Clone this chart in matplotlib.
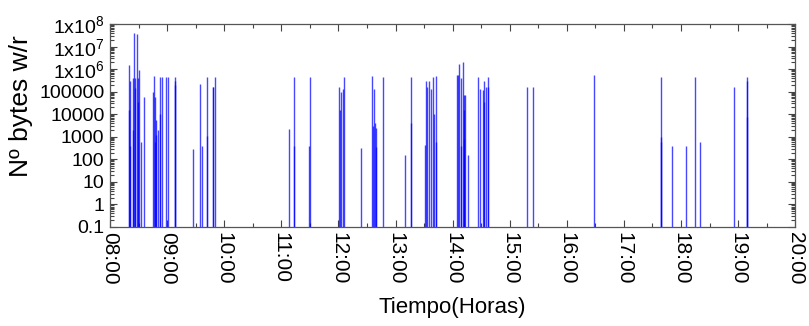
import matplotlib
matplotlib.use("Agg")
import matplotlib.pyplot as plt
from matplotlib.ticker import FixedLocator, LogLocator, NullFormatter

plt.rcParams.update({
    "font.family": ["Liberation Sans", "DejaVu Sans"],
    "mathtext.fontset": "custom",
    "mathtext.rm": "Liberation Sans",
    "mathtext.default": "regular",
})

# hora del dia (horas decimales) y bytes leidos/escritos
times = [8.335, 8.340, 8.345, 8.348, 8.403, 8.405, 8.426, 8.443, 8.445, 8.478,
         8.488, 8.492, 8.507, 8.543, 8.587,
         8.759, 8.776, 8.786, 8.790, 8.804, 8.808, 8.846, 8.874, 8.878, 8.916,
         8.975, 9.009, 9.135, 9.140, 9.145,
         9.459, 9.582, 9.617, 9.692, 9.696, 9.802, 9.806, 9.840,
         11.141, 11.222, 11.226, 11.481, 11.509,
         12.015, 12.019, 12.040, 12.075, 12.105, 12.392, 12.595, 12.614, 12.618,
         12.634, 12.653, 12.657, 12.788,
         13.173, 13.275, 13.279, 13.524, 13.528, 13.547, 13.578, 13.614, 13.663,
         13.676, 13.709, 13.713,
         14.079, 14.102, 14.119, 14.147, 14.151, 14.177, 14.191, 14.193, 14.195,
         14.219, 14.277, 14.452, 14.482, 14.540, 14.554, 14.558, 14.580, 14.620,
         14.624,
         15.299, 15.414, 16.467, 17.641, 17.651, 17.655, 17.840, 18.086, 18.236,
         18.324, 18.920, 19.152, 19.154, 19.156]
nbytes = [1.6e4, 1.5e6, 3e5, 400, 2000, 4e5, 3.9e7, 4e5, 1.5e5, 3.6e7,
          3.6e4, 4e5, 9e5, 600, 6e4,
          1e5, 5e5, 600, 6e4, 1200, 5500, 2000, 1e4, 4.5e5, 4.5e5,
          4.5e5, 4.5e5, 4.5e5, 3e5, 2e5,
          290, 2.2e5, 390, 1100, 4.5e5, 1.7e5, 1.7e5, 4.5e5,
          2200, 390, 4.5e5, 390, 4.5e5,
          1.7e5, 1.6e4, 1e5, 1.3e5, 4.7e5, 310, 5e5, 3000, 1.3e5,
          4000, 2500, 350, 4.5e5,
          150, 4.5e5, 4000, 440, 3e5, 1.6e5, 3e5, 1.3e5, 4.5e5,
          1e4, 5e5, 600,
          5.5e5, 5.5e5, 1.7e6, 390, 4e5, 2.1e6, 1.6e4, 780, 7e4,
          7e4, 150, 4.5e5, 1.3e5, 1.2e5, 3.6e4, 3e5, 1.6e5, 1.6e5,
          4.5e5,
          1.6e5, 1.6e5, 5.5e5, 4.5e5, 950, 600, 390, 390, 4.5e5,
          600, 1.6e5, 4.5e5, 3e5, 7700]

hours = list(range(8, 21))
hour_labels = [f"{h:02d}:00" for h in hours]
y_ticks = [0.1, 1, 10, 100, 1000, 10000, 100000, 1e6, 1e7, 1e8]
y_labels = ["0.1", "1", "10", "100", "1000", "10000", "100000",
            "1x10$^{6}$", "1x10$^{7}$", "1x10$^{8}$"]

fig = plt.figure(figsize=(8.09, 3.26), dpi=100)
ax = fig.add_axes([0.136, 0.304, 0.847, 0.622])

ax.vlines(times, 0.1, nbytes, colors="blue", linewidth=1.0, alpha=0.72)

ax.set_yscale("log")
ax.set_ylim(0.1, 1e8)
ax.set_xlim(8, 20)
ax.yaxis.set_major_locator(FixedLocator(y_ticks))
ax.set_yticklabels(y_labels, fontsize=14)
ax.yaxis.set_minor_locator(LogLocator(base=10, subs=range(2, 10), numticks=20))
ax.yaxis.set_minor_formatter(NullFormatter())
ax.set_xticks(hours)
ax.set_xticklabels(hour_labels, rotation=-90, fontsize=15)
ax.set_xticks([h + 0.5 for h in hours[:-1]], minor=True)

ax.tick_params(which="both", direction="in", top=True, right=True,
               color="#444444", width=0.8)
ax.tick_params(which="major", length=5, pad=4)
ax.tick_params(which="minor", length=3)
for s in ax.spines.values():
    s.set_color("#555555")
    s.set_linewidth(0.9)

ax.set_xlabel("Tiempo(Horas)", fontsize=16)
ax.set_ylabel("Nº bytes w/r", fontsize=19)
ax.xaxis.set_label_coords(0.5, -0.345)
ax.yaxis.set_label_coords(-0.112, 0.596)

fig.savefig("out.png", dpi=100)
